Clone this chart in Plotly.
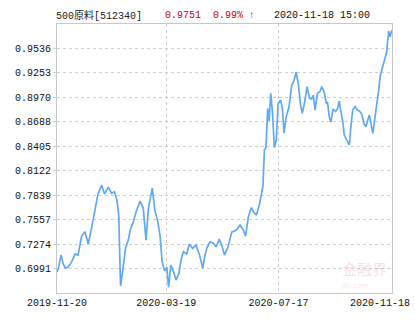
import plotly.graph_objects as go

# trading-day index (0 = 2019-11-20, 242 = 2020-11-18) and net value
day_index = [0, 1.1, 2.9, 4.6, 6.1, 8.0, 10.5, 13.0, 15.2, 17.8, 20.2, 22.6, 25.1, 27.5, 29.6,
             32.3, 34.3, 37.1, 39.4, 41.5, 43.3, 44.6, 45.9, 47.9, 49.5, 51.5, 53.1, 55.1, 57.1,
             60.0, 62.3, 64.3, 66.0, 68.8, 70.8, 72.6, 74.4, 75.9, 77.7, 79.3, 80.6, 82.2, 84.0,
             86.0, 88.1, 89.9, 91.4, 93.7, 95.6, 97.9, 100.4, 102.6, 105.3, 106.9, 108.4, 110.5,
             112.9, 114.9, 117.2, 119.2, 121.0, 123.5, 126.2, 129.7, 132.2, 134.6, 136.2, 138.2,
             140.4, 142.0, 144.1, 146.3, 147.9, 148.8, 149.8, 151.0, 152.2, 153.3, 154.4, 155.7,
             157.0, 158.4, 159.7, 161.5, 162.8, 164.0, 165.4, 167.6, 169.6, 171.2, 172.7, 174.3,
             176.1, 177.2, 179.2, 180.6, 182.4, 184.0, 185.2, 186.4, 188.2, 190.0, 191.2, 192.9,
             194.5, 195.4, 196.7, 197.9, 199.4, 201.2, 202.6, 203.9, 204.9, 206.4, 207.5, 208.9,
             210.1, 211.2, 212.2, 213.6, 215.3, 216.9, 218.5, 220.1, 221.8, 223.2, 224.3, 225.6,
             226.8, 228.1, 229.7, 231.2, 232.3, 233.6, 235.5, 236.9, 238.2, 238.9, 239.6, 240.6,
             242]
nav = [0.6950, 0.6996, 0.7146, 0.7042, 0.6996, 0.7007, 0.7065, 0.7158, 0.7146, 0.7366, 0.7416,
       0.7274, 0.7470, 0.7655, 0.7852, 0.7956, 0.7852, 0.7933, 0.7860, 0.7879, 0.7783, 0.7609,
       0.6788, 0.7019, 0.7227, 0.7320, 0.7447, 0.7528, 0.7644, 0.7771, 0.7690, 0.7320, 0.7679,
       0.7922, 0.7655, 0.7551, 0.7378, 0.7077, 0.6961, 0.7007, 0.6776, 0.7031, 0.6961, 0.6857,
       0.6935, 0.7112, 0.7187, 0.7158, 0.7274, 0.7224, 0.7262, 0.7169, 0.6996, 0.7146, 0.7233,
       0.7300, 0.7285, 0.7242, 0.7331, 0.7250, 0.7146, 0.7239, 0.7412, 0.7436, 0.7493, 0.7436,
       0.7366, 0.7586, 0.7696, 0.7644, 0.7609, 0.7736, 0.7887, 0.7945, 0.8361, 0.8390, 0.8844,
       0.8697, 0.9017, 0.8789, 0.8390, 0.8477, 0.8893, 0.8940, 0.8847, 0.8558, 0.8731, 0.8862,
       0.9113, 0.9160, 0.9264, 0.9125, 0.8870, 0.8786, 0.8940, 0.9094, 0.8959, 0.8951, 0.8998,
       0.8824, 0.9021, 0.9036, 0.9094, 0.9036, 0.8905, 0.8917, 0.8746, 0.8685, 0.8836, 0.8807,
       0.8836, 0.8928, 0.8824, 0.8697, 0.8535, 0.8497, 0.8454, 0.8419, 0.8616, 0.8824, 0.8864,
       0.8824, 0.8812, 0.8778, 0.8662, 0.8633, 0.8697, 0.8766, 0.8670, 0.8554, 0.8737, 0.8893,
       0.9044, 0.9229, 0.9333, 0.9414, 0.9495, 0.9634, 0.9738, 0.9672, 0.9751]

y_ticks = [0.6991, 0.7274, 0.7557, 0.7839, 0.8122, 0.8405, 0.8688, 0.8970, 0.9253, 0.9536]
y_range = [0.6708, 0.9819]
x_tick_pos = [0, 79, 160]
x_tick_text = ["2019-11-20", "2020-03-19", "2020-07-17"]
last_label = "2020-11-18"
x_max = 242

title_name = "500原料[512340]"
title_price = "0.9751"
title_change = "0.99% ↑"
title_time = "2020-11-18 15:00"

FONT = "Liberation Mono, DejaVu Sans Mono, Noto Sans CJK SC, monospace"
GRID = "#cfcfcf"

W, H = 415, 330
L, R, T, B = 57, 23, 24, 37
PW, PH = W - L - R, H - T - B


def px(xp):
    return (xp - L) / PW


def py(yp):
    return (H - B - yp) / PH


fig = go.Figure()
fig.add_trace(go.Scatter(x=day_index, y=nav, mode="lines",
                         line=dict(color="#62a9f2", width=1.7), hoverinfo="skip"))

fig.update_layout(
    width=W, height=H,
    margin=dict(l=L, r=R, t=T, b=B),
    paper_bgcolor="white", plot_bgcolor="white",
    showlegend=False,
    font=dict(family=FONT, size=10, color="#111"),
)
fig.update_xaxes(range=[0, x_max], tickvals=x_tick_pos, ticktext=x_tick_text,
                 showgrid=True, gridcolor=GRID, griddash="3px,3px", gridwidth=1,
                 showline=True, linecolor="#c8c8c8", linewidth=1, mirror=True,
                 zeroline=False, ticks="", tickfont=dict(size=10, color="#111"))
fig.update_yaxes(range=y_range, tickvals=y_ticks, ticktext=[f"{v:.4f}" for v in y_ticks],
                 showgrid=True, gridcolor=GRID, griddash="3px,3px", gridwidth=1,
                 showline=True, linecolor="#c8c8c8", linewidth=1, mirror=True,
                 zeroline=False, ticks="outside", ticklen=3, tickcolor=GRID,
                 tickfont=dict(size=10, color="#111"))

ann = []
ann.append(dict(x=x_max, y=0, xref="x", yref="paper", text=last_label, showarrow=False,
                xanchor="right", yanchor="top", xshift=20, yshift=-3,
                font=dict(family=FONT, size=10, color="#111")))
# header
for txt, xp, col in [(title_name, 54, "#222"), (title_price, 163, "#cc0000"),
                     (title_change, 211, "#cc0000"), (title_time, 272, "#111")]:
    ann.append(dict(x=px(xp), y=py(16), xref="paper", yref="paper", text=txt,
                    showarrow=False, xanchor="left", yanchor="middle",
                    font=dict(family=FONT, size=10, color=col)))
# watermark
ann.append(dict(x=px(364), y=py(268), xref="paper", yref="paper", text="金融界",
                showarrow=False, xanchor="center", yanchor="middle",
                font=dict(family="Noto Sans CJK SC", size=15, color="rgba(210,120,120,0.22)")))
ann.append(dict(x=px(354), y=py(286), xref="paper", yref="paper", text="<i>JRJ.com</i>",
                showarrow=False, xanchor="center", yanchor="middle",
                font=dict(family="DejaVu Sans", size=7, color="rgba(210,120,120,0.22)")))
fig.update_layout(annotations=ann)

fig.write_html("out.html")
